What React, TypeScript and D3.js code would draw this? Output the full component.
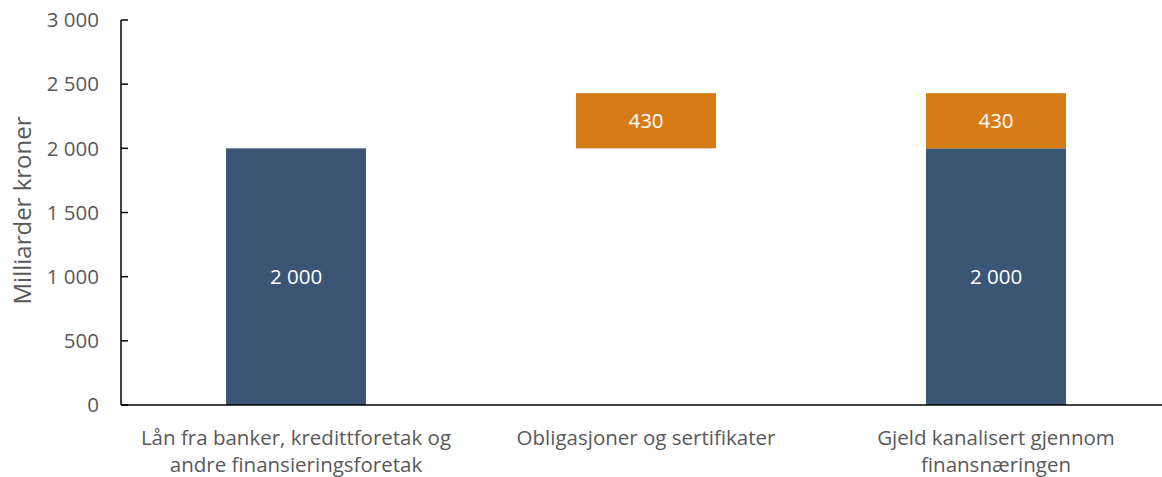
import React from "react";
import * as d3 from "d3";

// Waterfall: loans + bonds = total debt channelled through the financial sector
const categories = [
  ["Lån fra banker, kredittforetak og", "andre finansieringsforetak"],
  ["Obligasjoner og sertifikater"],
  ["Gjeld kanalisert gjennom", "finansnæringen"],
];
const loanValues = [2000, 0, 2000];
const bondBase = [0, 2000, 2000];
const bondValues = [0, 430, 430];
const yTicks = [0, 500, 1000, 1500, 2000, 2500, 3000];

const W = 1162;
const H = 477;
const FONT = "Open Sans, sans-serif";
const BLUE = "#3a5674";
const ORANGE = "#d67c17";
const GREY = "#595959";

const fmt = (v: number) => d3.format(",")(v).replace(/,/g, " ");

export default function App() {
  const x = d3
    .scaleBand<number>()
    .domain(categories.map((_, i) => i))
    .range([121, 1171]);
  const y = d3.scaleLinear().domain([0, 3000]).range([405, 20]);
  const barW = x.bandwidth() * 0.4;
  const cx = (i: number) => (x(i) ?? 0) + x.bandwidth() / 2;

  return (
    <div style={{ position: "absolute", left: 0, top: 0 }}>
      <svg width={W} height={H} style={{ display: "block", background: "#fff" }}>
        {/* bars */}
        {loanValues.map((v, i) =>
          v > 0 ? (
            <g key={"l" + i}>
              <rect x={cx(i) - barW / 2} y={y(v)} width={barW} height={y(0) - y(v)} fill={BLUE} />
              <text
                x={cx(i)}
                y={(y(0) + y(v)) / 2}
                dy="0.35em"
                textAnchor="middle"
                fill="#fff"
                fontFamily={FONT}
                fontSize={20.5}
              >
                {fmt(v)}
              </text>
            </g>
          ) : null
        )}
        {bondValues.map((v, i) =>
          v > 0 ? (
            <g key={"b" + i}>
              <rect
                x={cx(i) - barW / 2}
                y={y(bondBase[i] + v)}
                width={barW}
                height={y(bondBase[i]) - y(bondBase[i] + v)}
                fill={ORANGE}
              />
              <text
                x={cx(i)}
                y={(y(bondBase[i]) + y(bondBase[i] + v)) / 2}
                dy="0.35em"
                textAnchor="middle"
                fill="#fff"
                fontFamily={FONT}
                fontSize={20.5}
              >
                {fmt(v)}
              </text>
            </g>
          ) : null
        )}

        {/* y axis */}
        <line x1={121} x2={121} y1={y(3000)} y2={y(0)} stroke="#000" strokeWidth={1.5} />
        {yTicks.map((t) => (
          <g key={t}>
            <line x1={121} x2={128} y1={y(t)} y2={y(t)} stroke="#000" strokeWidth={1.5} />
            <text
              x={99}
              y={y(t)}
              dy="0.35em"
              textAnchor="end"
              fill={GREY}
              fontFamily={FONT}
              fontSize={20.5}
            >
              {fmt(t)}
            </text>
          </g>
        ))}
        <text
          transform={`translate(31,${(y(0) + y(3000)) / 2 - 2}) rotate(-90)`}
          textAnchor="middle"
          fill={GREY}
          fontFamily={FONT}
          fontSize={24}
        >
          Milliarder kroner
        </text>

        {/* x axis */}
        <line x1={121} x2={W} y1={y(0)} y2={y(0)} stroke="#000" strokeWidth={1.5} />
        {categories.map((lines, i) => (
          <text key={i} textAnchor="middle" fill={GREY} fontFamily={FONT} fontSize={20.5}>
            {lines.map((l, j) => (
              <tspan key={j} x={cx(i)} y={445 + j * 27}>
                {l}
              </tspan>
            ))}
          </text>
        ))}
      </svg>
    </div>
  );
}
